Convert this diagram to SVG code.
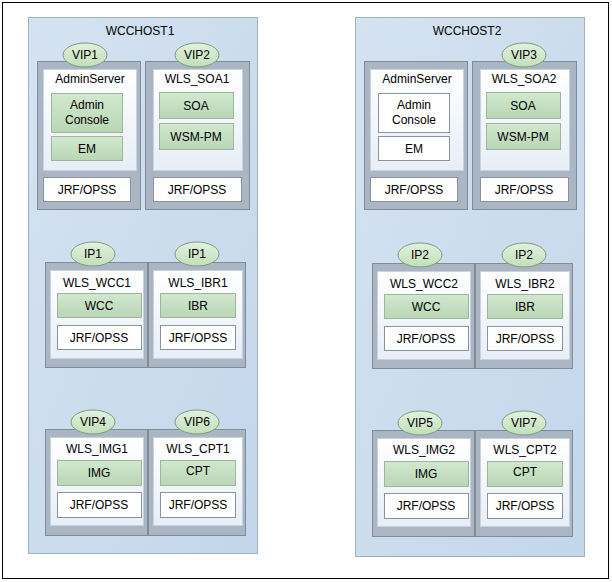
<svg xmlns="http://www.w3.org/2000/svg" width="612" height="582" viewBox="0 0 612 582">
<style>
text{font-family:"Liberation Sans",Arial,sans-serif;font-size:12px;fill:#000;text-anchor:middle}
.host{fill:url(#hg);stroke:#9fb1c4;stroke-width:1}
.srv{fill:#aab6c3;stroke:#7f8c99;stroke-width:1}
.in{fill:url(#ig);stroke:#c8d2dc;stroke-width:1}
.g{fill:url(#gg);stroke:#9fb59c;stroke-width:1}
.w{fill:#fff;stroke:#8a949e;stroke-width:1}
.vip{fill:url(#vg);stroke:#7f9a7f;stroke-width:1}
</style>
<defs>
<linearGradient id="hg" x1="0" y1="0" x2="1" y2="1"><stop offset="0" stop-color="#d5e3f1"/><stop offset="1" stop-color="#c3d6ea"/></linearGradient>
<linearGradient id="ig" x1="0" y1="0" x2="0" y2="1"><stop offset="0" stop-color="#ffffff"/><stop offset="1" stop-color="#e6eef7"/></linearGradient>
<linearGradient id="gg" x1="0" y1="0" x2="0" y2="1"><stop offset="0" stop-color="#d2e8cf"/><stop offset="1" stop-color="#b8d6b4"/></linearGradient>
<linearGradient id="vg" x1="0" y1="0" x2="0" y2="1"><stop offset="0" stop-color="#e2f2dd"/><stop offset="1" stop-color="#c2deb9"/></linearGradient>
<g id="srv">
<rect class="srv" x="0" y="0" width="100" height="105"/>
</g>
</defs>
<rect x="2.5" y="2.5" width="606" height="576" fill="#fff" stroke="#000" stroke-width="1"/>
<g id="host1">
<rect class="host" x="28.5" y="17.5" width="229" height="536"/>
<text x="140" y="35">WCCHOST1</text>
<g id="adminserver1">
<rect class="srv" x="37.5" y="61.5" width="103" height="148"/>
<rect class="in" x="43.5" y="69.5" width="93" height="101"/>
<text x="90" y="83">AdminServer</text>
<rect class="g" x="51.5" y="93.5" width="71" height="39"/>
<text x="87" y="109">Admin</text><text x="87" y="124">Console</text>
<rect class="g" x="51.5" y="136.5" width="71" height="24"/>
<text x="87" y="153">EM</text>
<rect class="w" x="43.5" y="177.5" width="87" height="24"/>
<text x="87" y="194">JRF/OPSS</text>
<ellipse class="vip" cx="85" cy="55" rx="22" ry="12"/><text x="85" y="59">VIP1</text>
</g>
<g id="wls_soa1">
<rect class="srv" x="145.5" y="61.5" width="104" height="148"/>
<rect class="in" x="153.5" y="69.5" width="89" height="101"/>
<text x="197" y="83">WLS_SOA1</text>
<rect class="g" x="159.5" y="92.5" width="74" height="26"/>
<text x="196" y="110">SOA</text>
<rect class="g" x="159.5" y="123.5" width="74" height="26"/>
<text x="196" y="141">WSM-PM</text>
<rect class="w" x="153.5" y="177.5" width="88" height="24"/>
<text x="197" y="194">JRF/OPSS</text>
<ellipse class="vip" cx="197" cy="55" rx="22" ry="12"/><text x="197" y="59">VIP2</text>
</g>
<g id="wls_wcc1">
<rect class="srv" x="45.5" y="262.5" width="102" height="105"/>
<rect class="in" x="50.5" y="270.5" width="93" height="88"/>
<text x="97" y="287">WLS_WCC1</text>
<rect class="g" x="57.5" y="293.5" width="84" height="24"/>
<text x="99" y="310">WCC</text>
<rect class="w" x="57.5" y="325.5" width="84" height="24"/>
<text x="99" y="342">JRF/OPSS</text>
<ellipse class="vip" cx="93" cy="254" rx="22" ry="12"/><text x="93" y="258">IP1</text>
</g>
<g id="wls_ibr1">
<rect class="srv" x="148.5" y="262.5" width="97" height="105"/>
<rect class="in" x="153.5" y="270.5" width="89" height="88"/>
<text x="198" y="287">WLS_IBR1</text>
<rect class="g" x="160.5" y="293.5" width="75" height="24"/>
<text x="198" y="310">IBR</text>
<rect class="w" x="160.5" y="325.5" width="75" height="24"/>
<text x="198" y="342">JRF/OPSS</text>
<ellipse class="vip" cx="197" cy="254" rx="22" ry="12"/><text x="197" y="258">IP1</text>
</g>
<g id="wls_img1">
<rect class="srv" x="45.5" y="429.5" width="102" height="106"/>
<rect class="in" x="50.5" y="437.5" width="93" height="88"/>
<text x="97" y="453">WLS_IMG1</text>
<rect class="g" x="57.5" y="460.5" width="84" height="25"/>
<text x="99" y="477">IMG</text>
<rect class="w" x="57.5" y="492.5" width="84" height="25"/>
<text x="99" y="509">JRF/OPSS</text>
<ellipse class="vip" cx="93" cy="422" rx="22" ry="12"/><text x="93" y="426">VIP4</text>
</g>
<g id="wls_cpt1">
<rect class="srv" x="148.5" y="429.5" width="97" height="106"/>
<rect class="in" x="153.5" y="437.5" width="89" height="88"/>
<text x="198" y="453">WLS_CPT1</text>
<rect class="g" x="160.5" y="460.5" width="75" height="25"/>
<text x="198" y="475">CPT</text>
<rect class="w" x="160.5" y="492.5" width="75" height="25"/>
<text x="198" y="509">JRF/OPSS</text>
<ellipse class="vip" cx="197" cy="422" rx="22" ry="12"/><text x="197" y="426">VIP6</text>
</g>
</g>
<g id="host2" transform="translate(327,0)">
<rect class="host" x="28.5" y="17.5" width="229" height="539"/>
<text x="140" y="35">WCCHOST2</text>
<g id="adminserver2">
<rect class="srv" x="37.5" y="61.5" width="103" height="148"/>
<rect class="in" x="43.5" y="69.5" width="93" height="101"/>
<text x="90" y="83">AdminServer</text>
<rect class="w" x="51.5" y="93.5" width="71" height="39"/>
<text x="87" y="109">Admin</text><text x="87" y="124">Console</text>
<rect class="w" x="51.5" y="136.5" width="71" height="24"/>
<text x="87" y="153">EM</text>
<rect class="w" x="43.5" y="177.5" width="87" height="24"/>
<text x="87" y="194">JRF/OPSS</text>
</g>
<g id="wls_soa2">
<rect class="srv" x="145.5" y="61.5" width="104" height="148"/>
<rect class="in" x="153.5" y="69.5" width="89" height="101"/>
<text x="197" y="83">WLS_SOA2</text>
<rect class="g" x="159.5" y="92.5" width="74" height="26"/>
<text x="196" y="110">SOA</text>
<rect class="g" x="159.5" y="123.5" width="74" height="26"/>
<text x="196" y="141">WSM-PM</text>
<rect class="w" x="153.5" y="177.5" width="88" height="24"/>
<text x="197" y="194">JRF/OPSS</text>
<ellipse class="vip" cx="197" cy="55" rx="22" ry="12"/><text x="197" y="59">VIP3</text>
</g>
<g id="wls_wcc2">
<rect class="srv" x="45.5" y="263.5" width="102" height="105"/>
<rect class="in" x="50.5" y="271.5" width="93" height="88"/>
<text x="97" y="288">WLS_WCC2</text>
<rect class="g" x="57.5" y="294.5" width="84" height="24"/>
<text x="99" y="311">WCC</text>
<rect class="w" x="57.5" y="326.5" width="84" height="24"/>
<text x="99" y="343">JRF/OPSS</text>
<ellipse class="vip" cx="93" cy="255" rx="22" ry="12"/><text x="93" y="259">IP2</text>
</g>
<g id="wls_ibr2">
<rect class="srv" x="148.5" y="263.5" width="97" height="105"/>
<rect class="in" x="153.5" y="271.5" width="89" height="88"/>
<text x="198" y="288">WLS_IBR2</text>
<rect class="g" x="160.5" y="294.5" width="75" height="24"/>
<text x="198" y="311">IBR</text>
<rect class="w" x="160.5" y="326.5" width="75" height="24"/>
<text x="198" y="343">JRF/OPSS</text>
<ellipse class="vip" cx="197" cy="255" rx="22" ry="12"/><text x="197" y="259">IP2</text>
</g>
<g id="wls_img2">
<rect class="srv" x="45.5" y="430.5" width="102" height="106"/>
<rect class="in" x="50.5" y="438.5" width="93" height="88"/>
<text x="97" y="454">WLS_IMG2</text>
<rect class="g" x="57.5" y="461.5" width="84" height="25"/>
<text x="99" y="478">IMG</text>
<rect class="w" x="57.5" y="493.5" width="84" height="25"/>
<text x="99" y="510">JRF/OPSS</text>
<ellipse class="vip" cx="93" cy="423" rx="22" ry="12"/><text x="93" y="427">VIP5</text>
</g>
<g id="wls_cpt2">
<rect class="srv" x="148.5" y="430.5" width="97" height="106"/>
<rect class="in" x="153.5" y="438.5" width="89" height="88"/>
<text x="198" y="454">WLS_CPT2</text>
<rect class="g" x="160.5" y="461.5" width="75" height="25"/>
<text x="198" y="476">CPT</text>
<rect class="w" x="160.5" y="493.5" width="75" height="25"/>
<text x="198" y="510">JRF/OPSS</text>
<ellipse class="vip" cx="197" cy="423" rx="22" ry="12"/><text x="197" y="427">VIP7</text>
</g>
</g>
<g id="connectors"/>
</svg>
